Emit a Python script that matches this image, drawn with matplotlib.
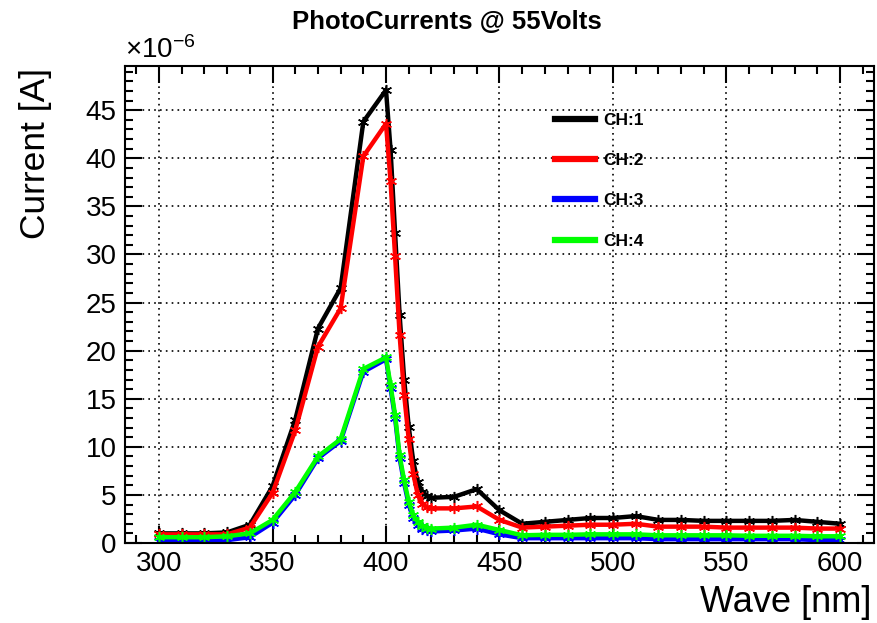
import matplotlib
matplotlib.use("Agg")
import matplotlib.pyplot as plt
from matplotlib.ticker import MultipleLocator

plt.rcParams['font.family'] = ['Liberation Sans', 'DejaVu Sans']
plt.rcParams['mathtext.fontset'] = 'custom'
plt.rcParams['mathtext.rm'] = 'Liberation Sans'
plt.rcParams['mathtext.it'] = 'Liberation Sans'

# wavelength [nm]
wave = [300, 310, 320, 330, 340, 350, 360, 370, 380, 390,
        400, 402, 404, 406, 408, 410, 412, 414, 416, 418, 420,
        430, 440, 450, 460, 470, 480, 490, 500, 510, 520, 530,
        540, 550, 560, 570, 580, 590, 600]

# photocurrents in units of 1e-6 A
ch1 = [1.0, 1.0, 1.0, 1.1, 1.9, 5.9, 12.8, 22.3, 26.5, 43.8,
       47.1, 40.9, 32.2, 23.7, 17.0, 12.1, 8.5, 6.3, 5.3, 4.9, 4.7,
       4.8, 5.6, 3.4, 2.0, 2.2, 2.4, 2.6, 2.6, 2.8, 2.4, 2.4,
       2.3, 2.3, 2.3, 2.3, 2.4, 2.2, 2.0]
ch2 = [0.9, 0.9, 0.9, 0.9, 1.6, 5.2, 11.7, 20.4, 24.4, 40.2,
       43.6, 37.6, 29.8, 21.6, 15.4, 10.8, 7.2, 5.0, 4.1, 3.7, 3.6,
       3.6, 3.8, 2.4, 1.6, 1.7, 1.8, 1.9, 1.9, 2.0, 1.7, 1.7,
       1.7, 1.6, 1.6, 1.6, 1.6, 1.5, 1.5]
ch3 = [0.2, 0.2, 0.2, 0.3, 0.6, 2.1, 5.0, 8.8, 10.6, 17.8,
       19.1, 16.1, 13.0, 8.8, 6.2, 4.0, 2.6, 1.9, 1.5, 1.3, 1.2,
       1.3, 1.5, 0.9, 0.5, 0.5, 0.5, 0.5, 0.5, 0.5, 0.4, 0.4,
       0.4, 0.4, 0.4, 0.4, 0.4, 0.3, 0.3]
ch4 = [0.6, 0.6, 0.6, 0.7, 1.0, 2.4, 5.3, 9.0, 10.8, 18.1,
       19.3, 16.4, 13.3, 9.1, 6.5, 4.3, 2.9, 2.2, 1.8, 1.6, 1.5,
       1.6, 1.9, 1.35, 0.8, 0.85, 0.85, 0.9, 0.9, 0.9, 0.8, 0.8,
       0.8, 0.8, 0.75, 0.75, 0.75, 0.7, 0.7]

channels = ["CH:1", "CH:2", "CH:3", "CH:4"]
colors = ["black", "red", "blue", "#00ff00"]

fig = plt.figure(figsize=(8.77, 6.23), dpi=100)
ax = fig.add_axes([125 / 877, 80 / 623, 749 / 877, 477 / 623])

series = [ch1, ch2, ch3, ch4]
for name, vals, col in zip(channels, series, colors):
    # ROOT-style asterisk markers
    ax.plot(wave, [v * 1e-6 for v in vals], color=col, lw=3.2,
            marker=(6, 2, 0), ms=8, mew=1.1, label=name)

ax.xaxis.set_major_locator(MultipleLocator(50))
ax.xaxis.set_minor_locator(MultipleLocator(10))
yt = [i * 5e-6 for i in range(10)]
ax.set_yticks(yt)
ax.set_yticklabels([f"{t * 1e6:.0f}" for t in yt])
ax.yaxis.set_minor_locator(MultipleLocator(1e-6))
ax.set_xlim(285, 615)
ax.set_ylim(0, 49.6e-6)

ax.tick_params(which='both', direction='in', top=True, right=True,
               labelsize=20, width=1.5, pad=6)
ax.tick_params(which='major', length=12)
ax.tick_params(which='minor', length=6)
for sp in ax.spines.values():
    sp.set_linewidth(1.5)

ax.grid(True, which='major', color='black', linestyle=(0, (1, 2.5)), lw=1.2)

fig.text(125 / 877, 1 - 50 / 623, r'$\times10^{-6}$', fontsize=20,
         ha='left', va='center')
fig.text(447 / 877, 1 - 22 / 623, "PhotoCurrents @ 55Volts",
         fontsize=18.5, fontweight='bold', ha='center', va='center')
fig.text(35 / 877, 1 - 68 / 623, "Current [A]", fontsize=25.5,
         rotation=90, ha='center', va='top')
fig.text(872 / 877, 1 - 603 / 623, "Wave [nm]", fontsize=26,
         ha='right', va='center')

leg = ax.legend(loc='upper left', bbox_to_anchor=(0.553, 0.935), frameon=False,
                prop={'weight': 'bold', 'size': 12.5}, handlelength=2.3,
                labelspacing=1.45, handletextpad=0.5)
for line in leg.get_lines():
    line.set_marker('')
    line.set_linewidth(4.5)

fig.savefig("out.png", dpi=100)
